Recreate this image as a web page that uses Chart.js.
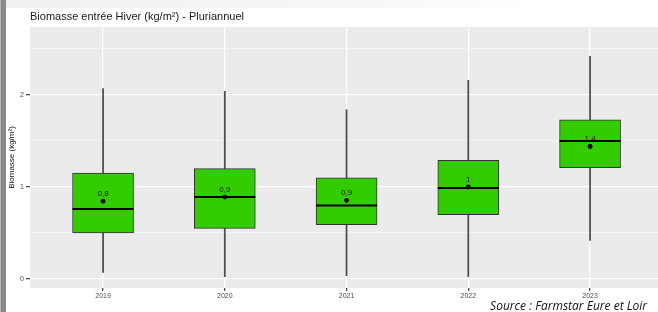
<!DOCTYPE html>
<html>
<head>
<meta charset="utf-8">
<script src="https://cdn.jsdelivr.net/npm/chart.js@4"></script>
<style>
  html, body { margin:0; padding:0; background:#fff; width:658px; height:312px; overflow:hidden; }
  #wrap { position:relative; width:658px; height:312px; }
  #topstrip { position:absolute; left:0; top:0; width:658px; height:8px; background:linear-gradient(to right, #f0f0f0 0%, #f6f6f6 50%, #ffffff 80%); }
  #leftbar { position:absolute; left:0; top:0; width:5px; height:312px; background:#8a8a8a; border-left:1px solid #b5b5b5; }
  #title { position:absolute; left:30px; top:10px; font:11px "Liberation Sans", Arial, sans-serif; color:#1a1a1a; white-space:nowrap; }
  #source { position:absolute; right:11px; top:297px; font:italic 12px "Open Sans", sans-serif; color:#111; white-space:nowrap; }
  canvas { position:absolute; left:0; top:0; }
</style>
</head>
<body>
<div id="wrap">
  <div id="topstrip"></div>
  <div id="leftbar"></div>
  <canvas id="c" width="658" height="312"></canvas>
  <div id="title">Biomasse entrée Hiver (kg/m²) - Pluriannuel</div>
  <div id="source">Source : Farmstar Eure et Loir</div>
</div>
<script>
const years = ['2019', '2020', '2021', '2022', '2023'];
const whiskerLow = [0.07, 0.025, 0.035, 0.025, 0.42];
const q1 = [0.50, 0.55, 0.59, 0.70, 1.21];
const median = [0.76, 0.89, 0.80, 0.99, 1.50];
const q3 = [1.15, 1.20, 1.10, 1.29, 1.73];
const whiskerHigh = [2.07, 2.04, 1.84, 2.16, 2.42];
const mean = [0.845, 0.89, 0.855, 1.00, 1.44];
const meanLabels = ['0,8', '0,9', '0,9', '1', '1,4'];
const yTicks = [0, 0.5, 1, 1.5, 2, 2.5];
const yTickLabels = { 0: '0', 1: '1', 2: '2' };

const panelBg = {
  id: 'panelBg',
  beforeDraw(chart) {
    const { ctx, chartArea: a } = chart;
    ctx.save();
    ctx.fillStyle = '#EBEBEB';
    ctx.fillRect(a.left, a.top, a.right - a.left, a.bottom - a.top);
    ctx.restore();
  }
};

const meanText = {
  id: 'meanText',
  afterDatasetsDraw(chart) {
    const { ctx, scales } = chart;
    ctx.save();
    ctx.font = '8px "Liberation Sans", Arial, sans-serif';
    ctx.fillStyle = '#222';
    ctx.textAlign = 'center';
    ctx.textBaseline = 'middle';
    meanLabels.forEach((t, i) => {
      const x = scales.x.getPixelForValue(i);
      const y = scales.y.getPixelForValue(mean[i]) - 7.5;
      ctx.fillText(t, x, y);
    });
    ctx.restore();
  }
};

new Chart(document.getElementById('c'), {
  type: 'scatter',
  data: {
    datasets: [
      {
        type: 'bar',
        label: 'whiskers',
        data: years.map((y, i) => ({ x: i, y: [whiskerLow[i], whiskerHigh[i]] })),
        backgroundColor: '#4d4d4d',
        borderWidth: 0,
        barThickness: 1.1,
        grouped: false,
        order: 5
      },
      {
        type: 'bar',
        label: 'box',
        data: years.map((y, i) => ({ x: i, y: [q1[i], q3[i]] })),
        backgroundColor: '#33CC00',
        borderColor: '#333333',
        borderWidth: 1,
        borderSkipped: false,
        barThickness: 61,
        grouped: false,
        order: 4
      },
      {
        type: 'scatter',
        label: 'median',
        data: years.map((y, i) => ({ x: i, y: median[i] })),
        pointStyle: 'line',
        pointRadius: 30.5,
        borderColor: '#000',
        borderWidth: 2,
        order: 3
      },
      {
        type: 'scatter',
        label: 'mean',
        data: years.map((y, i) => ({ x: i, y: mean[i] })),
        pointStyle: 'circle',
        pointRadius: 2.4,
        backgroundColor: '#000',
        borderColor: '#000',
        borderWidth: 0,
        order: 2
      }
    ]
  },
  options: {
    responsive: false,
    devicePixelRatio: 1,
    animation: false,
    events: [],
    layout: { autoPadding: false, padding: { top: 27, left: 0, right: 0, bottom: 0 } },
    plugins: { legend: { display: false }, tooltip: { enabled: false }, title: { display: false } },
    scales: {
      x: {
        type: 'linear',
        min: -0.6,
        max: 4.558,
        offset: false,
        afterFit(s) { s.height = 24; },
        afterBuildTicks(s) { s.ticks = years.map((y, i) => ({ value: i })); },
        ticks: {
          callback: (v) => years[v] ?? '',
          font: { family: '"Liberation Sans", Arial, sans-serif', size: 7 },
          color: '#4D4D4D',
          padding: 0.5,
          maxRotation: 0,
          autoSkip: false
        },
        grid: { color: '#FFFFFF', lineWidth: 1.3, tickLength: 3, tickColor: '#4D4D4D', offset: false },
        border: { display: false }
      },
      y: {
        min: -0.098,
        max: 2.739,
        afterFit(s) { s.width = 30; },
        afterBuildTicks(s) { s.ticks = yTicks.map(v => ({ value: v })); },
        ticks: {
          callback: (v) => yTickLabels[v] ?? '',
          font: { family: '"Liberation Sans", Arial, sans-serif', size: 7 },
          color: '#4D4D4D',
          padding: 2
        },
        grid: {
          color: (c) => (c.tick && Number.isInteger(c.tick.value)) ? '#FFFFFF' : '#F7F7F7',
          lineWidth: (c) => (c.tick && Number.isInteger(c.tick.value)) ? 1.3 : 0.7,
          tickLength: 4,
          tickColor: (c) => (c.tick && Number.isInteger(c.tick.value)) ? '#4D4D4D' : 'rgba(0,0,0,0)'
        },
        border: { display: false },
        title: {
          display: true,
          text: 'Biomasse (kg/m²)',
          font: { family: '"Liberation Sans", Arial, sans-serif', size: 8 },
          color: '#111',
          padding: { top: 7, bottom: 0 }
        }
      }
    }
  },
  plugins: [panelBg, meanText]
});
</script>
</body>
</html>
